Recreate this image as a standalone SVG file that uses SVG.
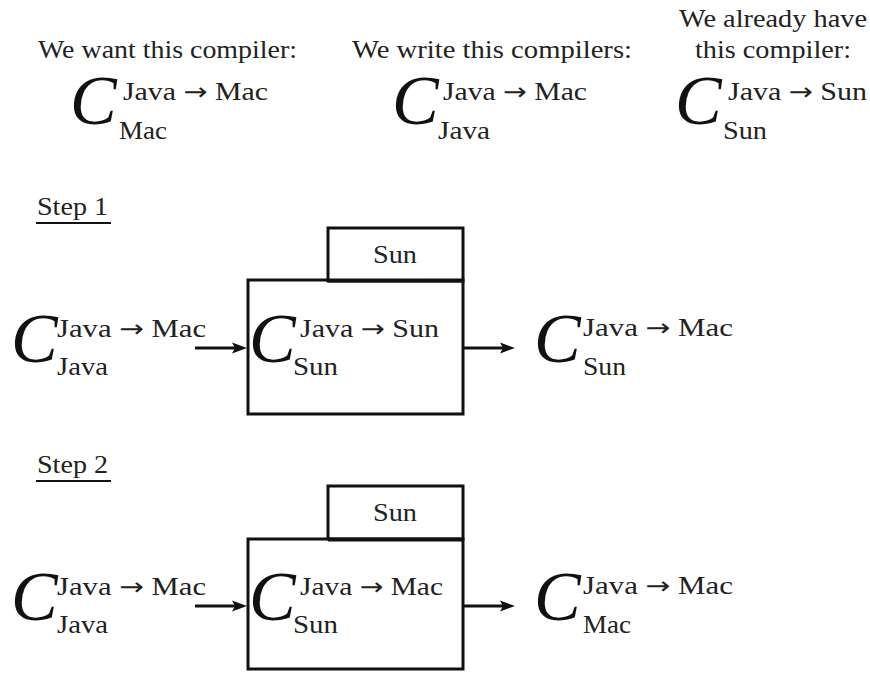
<svg xmlns="http://www.w3.org/2000/svg" width="870" height="673" viewBox="0 0 870 673">
<style>
text{font-family:"Liberation Serif","DejaVu Serif",serif;font-size:25px;fill:#222}
.a{font-family:"DejaVu Sans",sans-serif;font-size:24px}
.c{font-style:italic;font-size:70px;fill:#111}
.box{fill:none;stroke:#111;stroke-width:3}
.ln{stroke:#111;stroke-width:3;fill:none}
.ul{stroke:#111;stroke-width:2}
.ah{fill:#111}
</style>
<rect width="870" height="673" fill="#fff"/>
<g id="header">
<text x="38" y="58" textLength="259" lengthAdjust="spacingAndGlyphs">We want this compiler:</text>
<text x="352" y="58" textLength="280" lengthAdjust="spacingAndGlyphs">We write this compilers:</text>
<text x="679" y="27" textLength="188" lengthAdjust="spacingAndGlyphs">We already have</text>
<text x="695" y="58" textLength="156" lengthAdjust="spacingAndGlyphs">this compiler:</text>
</g>
<g id="want">
<text class="c" x="70" y="124">C</text>
<text x="123" y="100" textLength="145" lengthAdjust="spacingAndGlyphs">Java <tspan class="a">→</tspan> Mac</text>
<text x="119" y="139" textLength="48" lengthAdjust="spacingAndGlyphs">Mac</text>
</g>
<g id="write">
<text class="c" x="392" y="124">C</text>
<text x="443" y="100" textLength="144" lengthAdjust="spacingAndGlyphs">Java <tspan class="a">→</tspan> Mac</text>
<text x="438" y="139" textLength="52" lengthAdjust="spacingAndGlyphs">Java</text>
</g>
<g id="have">
<text class="c" x="675" y="124">C</text>
<text x="728" y="100" textLength="139" lengthAdjust="spacingAndGlyphs">Java <tspan class="a">→</tspan> Sun</text>
<text x="723" y="139" textLength="44" lengthAdjust="spacingAndGlyphs">Sun</text>
</g>
<g id="step1-label">
<text x="37" y="215" textLength="71" lengthAdjust="spacingAndGlyphs">Step 1</text>
<line class="ul" x1="36" y1="223" x2="111" y2="223"/>
</g>
<g id="step1-input">
<text class="c" x="11" y="362">C</text>
<text x="57" y="337" textLength="149" lengthAdjust="spacingAndGlyphs">Java <tspan class="a">→</tspan> Mac</text>
<text x="57" y="375" textLength="51" lengthAdjust="spacingAndGlyphs">Java</text>
</g>
<g id="step1-machine">
<rect class="box" x="328" y="228" width="135" height="53"/>
<rect class="box" x="248" y="280" width="215" height="134"/>
<line class="ln" x1="328" y1="281" x2="463" y2="281"/>
<text x="373" y="263" textLength="44" lengthAdjust="spacingAndGlyphs">Sun</text>
<text class="c" x="249" y="362">C</text>
<text x="300" y="337" textLength="139" lengthAdjust="spacingAndGlyphs">Java <tspan class="a">→</tspan> Sun</text>
<text x="293" y="375" textLength="45" lengthAdjust="spacingAndGlyphs">Sun</text>
</g>
<g id="step1-output">
<text class="c" x="534" y="362">C</text>
<text x="583" y="336" textLength="150" lengthAdjust="spacingAndGlyphs">Java <tspan class="a">→</tspan> Mac</text>
<text x="583" y="375" textLength="43" lengthAdjust="spacingAndGlyphs">Sun</text>
</g>
<g id="step2-label">
<text x="37" y="473" textLength="71" lengthAdjust="spacingAndGlyphs">Step 2</text>
<line class="ul" x1="36" y1="481" x2="111" y2="481"/>
</g>
<g id="step2-input">
<text class="c" x="11" y="620">C</text>
<text x="57" y="595" textLength="149" lengthAdjust="spacingAndGlyphs">Java <tspan class="a">→</tspan> Mac</text>
<text x="57" y="633" textLength="51" lengthAdjust="spacingAndGlyphs">Java</text>
</g>
<g id="step2-machine">
<rect class="box" x="328" y="486" width="135" height="53"/>
<rect class="box" x="248" y="539" width="215" height="130"/>
<line class="ln" x1="328" y1="540" x2="463" y2="540"/>
<text x="373" y="521" textLength="44" lengthAdjust="spacingAndGlyphs">Sun</text>
<text class="c" x="249" y="620">C</text>
<text x="300" y="595" textLength="143" lengthAdjust="spacingAndGlyphs">Java <tspan class="a">→</tspan> Mac</text>
<text x="293" y="633" textLength="45" lengthAdjust="spacingAndGlyphs">Sun</text>
</g>
<g id="step2-output">
<text class="c" x="534" y="620">C</text>
<text x="583" y="594" textLength="150" lengthAdjust="spacingAndGlyphs">Java <tspan class="a">→</tspan> Mac</text>
<text x="583" y="633" textLength="48" lengthAdjust="spacingAndGlyphs">Mac</text>
</g>
<g id="connectors">
<line class="ln" x1="195" y1="348" x2="236" y2="348"/>
<path class="ah" d="M247,348 L232,342.5 L235,348 L232,353.5 Z"/>
<line class="ln" x1="463" y1="348" x2="503" y2="348"/>
<path class="ah" d="M515,348 L500,342.5 L503,348 L500,353.5 Z"/>
<line class="ln" x1="195" y1="606" x2="236" y2="606"/>
<path class="ah" d="M247,606 L232,600.5 L235,606 L232,611.5 Z"/>
<line class="ln" x1="463" y1="606" x2="503" y2="606"/>
<path class="ah" d="M515,606 L500,600.5 L503,606 L500,611.5 Z"/>
</g>
</svg>
